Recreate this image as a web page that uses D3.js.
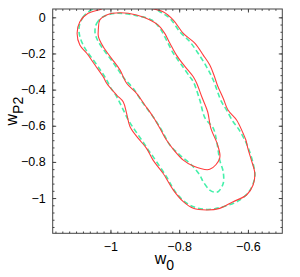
<!DOCTYPE html>
<html>
<head>
<meta charset="utf-8">
<script src="https://cdn.jsdelivr.net/npm/d3@7/dist/d3.min.js"></script>
<style>
  body { margin: 0; background: #fff; }
  text { font-family: "Liberation Sans", Arial, sans-serif; }
</style>
</head>
<body>
<div id="chart"></div>
<script>
// contour lines, [w0, wP2]
var outerRed = [[-1.026,0.046],[-1.065,0.022],[-1.089,-0.024],[-1.097,-0.089],[-1.089,-0.153],[-1.069,-0.199],[-1.045,-0.264],[-1.021,-0.329],[-1.011,-0.365],[-0.982,-0.430],[-0.963,-0.467],[-0.953,-0.531],[-0.943,-0.605],[-0.919,-0.670],[-0.895,-0.725],[-0.876,-0.790],[-0.847,-0.863],[-0.817,-0.956],[-0.788,-1.020],[-0.759,-1.057],[-0.720,-1.066],[-0.682,-1.057],[-0.643,-1.020],[-0.604,-0.983],[-0.585,-0.928],[-0.580,-0.863],[-0.590,-0.790],[-0.599,-0.734],[-0.606,-0.679],[-0.614,-0.642],[-0.633,-0.568],[-0.658,-0.513],[-0.672,-0.448],[-0.688,-0.380],[-0.699,-0.319],[-0.711,-0.264],[-0.730,-0.209],[-0.754,-0.144],[-0.788,-0.089],[-0.817,-0.015],[-0.847,0.031],[-0.885,0.051],[-0.914,0.068],[-0.972,0.068],[-1.016,0.057]];
var innerRed = [[-1.031,-0.015],[-1.011,0.013],[-0.972,0.025],[-0.924,0.013],[-0.885,-0.015],[-0.861,-0.043],[-0.842,-0.089],[-0.827,-0.144],[-0.808,-0.209],[-0.783,-0.273],[-0.759,-0.329],[-0.749,-0.365],[-0.734,-0.441],[-0.717,-0.524],[-0.708,-0.613],[-0.688,-0.707],[-0.682,-0.779],[-0.711,-0.841],[-0.759,-0.823],[-0.788,-0.790],[-0.813,-0.740],[-0.837,-0.679],[-0.856,-0.614],[-0.876,-0.550],[-0.900,-0.485],[-0.924,-0.421],[-0.953,-0.365],[-0.972,-0.292],[-0.997,-0.227],[-1.021,-0.163],[-1.035,-0.107],[-1.035,-0.061]];
var outerGreen = [[-1.050,0.046],[-1.079,0.003],[-1.091,-0.052],[-1.089,-0.107],[-1.074,-0.172],[-1.050,-0.236],[-1.026,-0.301],[-1.011,-0.347],[-1.001,-0.384],[-0.982,-0.439],[-0.967,-0.495],[-0.948,-0.568],[-0.929,-0.624],[-0.909,-0.679],[-0.890,-0.734],[-0.876,-0.771],[-0.837,-0.882],[-0.808,-0.974],[-0.769,-1.039],[-0.720,-1.063],[-0.672,-1.048],[-0.624,-1.011],[-0.594,-0.956],[-0.580,-0.882],[-0.585,-0.808],[-0.599,-0.723],[-0.612,-0.668],[-0.629,-0.613],[-0.643,-0.578],[-0.662,-0.513],[-0.677,-0.467],[-0.701,-0.347],[-0.720,-0.275],[-0.745,-0.199],[-0.769,-0.135],[-0.798,-0.080],[-0.827,-0.006],[-0.856,0.031],[-0.885,0.063],[-0.958,0.074],[-1.016,0.063]];
var innerGreen = [[-1.045,-0.080],[-1.040,-0.033],[-1.021,0.003],[-0.982,0.022],[-0.924,0.009],[-0.880,-0.015],[-0.856,-0.061],[-0.837,-0.126],[-0.817,-0.199],[-0.793,-0.264],[-0.769,-0.329],[-0.759,-0.356],[-0.740,-0.458],[-0.725,-0.557],[-0.701,-0.613],[-0.690,-0.696],[-0.682,-0.790],[-0.672,-0.854],[-0.672,-0.919],[-0.687,-0.965],[-0.699,-0.967],[-0.711,-0.956],[-0.730,-0.910],[-0.740,-0.873],[-0.764,-0.817],[-0.798,-0.762],[-0.827,-0.707],[-0.851,-0.624],[-0.876,-0.550],[-0.905,-0.476],[-0.934,-0.393],[-0.961,-0.336],[-0.977,-0.292],[-1.001,-0.227],[-1.026,-0.163],[-1.040,-0.116]];

var xTicks = [-1, -0.8, -0.6];
var yTicks = [0, -0.2, -0.4, -0.6, -0.8, -1];

var width = 300, height = 277;
var margin = {top: 9, right: 17.7, bottom: 43.7, left: 52.7};
var w = width - margin.left - margin.right;
var h = height - margin.top - margin.bottom;

var svg = d3.select('#chart')
    .append('svg')
    .attr('width', width)
    .attr('height', height)
    .append('g')
    .attr('transform', 'translate(' + margin.left + ',' + margin.top + ')');

var x = d3.scaleLinear().domain([-1.168, -0.5]).range([0, w]);
var y = d3.scaleLinear().domain([-1.195, 0.046]).range([h, 0]);

svg.append('clipPath').attr('id', 'clip')
    .append('rect').attr('width', w).attr('height', h);

var line = d3.line()
    .x(function(d){ return x(d[0]); })
    .y(function(d){ return y(d[1]); })
    .curve(d3.curveCatmullRomClosed.alpha(0.5));

var plot = svg.append('g').attr('clip-path', 'url(#clip)');

[outerGreen, innerGreen].forEach(function(c){
    plot.append('path')
        .attr('d', line(c))
        .attr('fill', 'none')
        .attr('stroke', '#45f0aa')
        .attr('stroke-width', 1.6)
        .attr('stroke-dasharray', '5,3');
});
[outerRed, innerRed].forEach(function(c){
    plot.append('path')
        .attr('d', line(c))
        .attr('fill', 'none')
        .attr('stroke', '#ff3d3d')
        .attr('stroke-width', 1.1);
});

// minor ticks
var xMinor = d3.range(-1.16, -0.5, 0.02);
var yMinor = d3.range(-1.16, 0.04, 0.04);
function styleAxis(g){
    g.select('.domain').remove();
    g.selectAll('line').attr('stroke', '#444');
}
svg.append('g').attr('transform', 'translate(0,' + h + ')')
    .call(d3.axisBottom(x).tickValues(xMinor).tickSize(-1.8).tickFormat('')).call(styleAxis);
svg.append('g')
    .call(d3.axisTop(x).tickValues(xMinor).tickSize(-1.8).tickFormat('')).call(styleAxis);
svg.append('g')
    .call(d3.axisLeft(y).tickValues(yMinor).tickSize(-1.8).tickFormat('')).call(styleAxis);
svg.append('g').attr('transform', 'translate(' + w + ',0)')
    .call(d3.axisRight(y).tickValues(yMinor).tickSize(-1.8).tickFormat('')).call(styleAxis);

// major ticks
var fmt = d3.format('');
svg.append('g').attr('transform', 'translate(0,' + h + ')')
    .call(d3.axisBottom(x).tickValues(xTicks).tickSize(-3.5).tickPadding(9).tickFormat(fmt)).call(styleAxis);
svg.append('g')
    .call(d3.axisTop(x).tickValues(xTicks).tickSize(-3.5).tickFormat('')).call(styleAxis);
svg.append('g')
    .call(d3.axisLeft(y).tickValues(yTicks).tickSize(-3.5).tickPadding(7).tickFormat(fmt)).call(styleAxis);
svg.append('g').attr('transform', 'translate(' + w + ',0)')
    .call(d3.axisRight(y).tickValues(yTicks).tickSize(-3.5).tickFormat('')).call(styleAxis);

svg.selectAll('.tick text')
    .attr('font-family', '"Liberation Sans", Arial, sans-serif')
    .attr('font-size', 12.5)
    .attr('fill', '#000');

svg.append('rect')
    .attr('width', w).attr('height', h)
    .attr('fill', 'none')
    .attr('stroke', '#444')
    .attr('stroke-width', 1);

// axis labels
var xl = svg.append('text')
    .attr('x', w / 2 - 3)
    .attr('y', h + 31)
    .attr('text-anchor', 'middle')
    .attr('font-size', 16);
xl.append('tspan').text('w');
xl.append('tspan').attr('font-size', 14).attr('dy', 6).text('0');

var yl = svg.append('text')
    .attr('transform', 'translate(' + (-36) + ',' + (h / 2 - 10) + ') rotate(-90)')
    .attr('text-anchor', 'middle')
    .attr('font-size', 16);
yl.append('tspan').text('w');
yl.append('tspan').attr('font-size', 14).attr('dy', 6).text('P2');
</script>
</body>
</html>
